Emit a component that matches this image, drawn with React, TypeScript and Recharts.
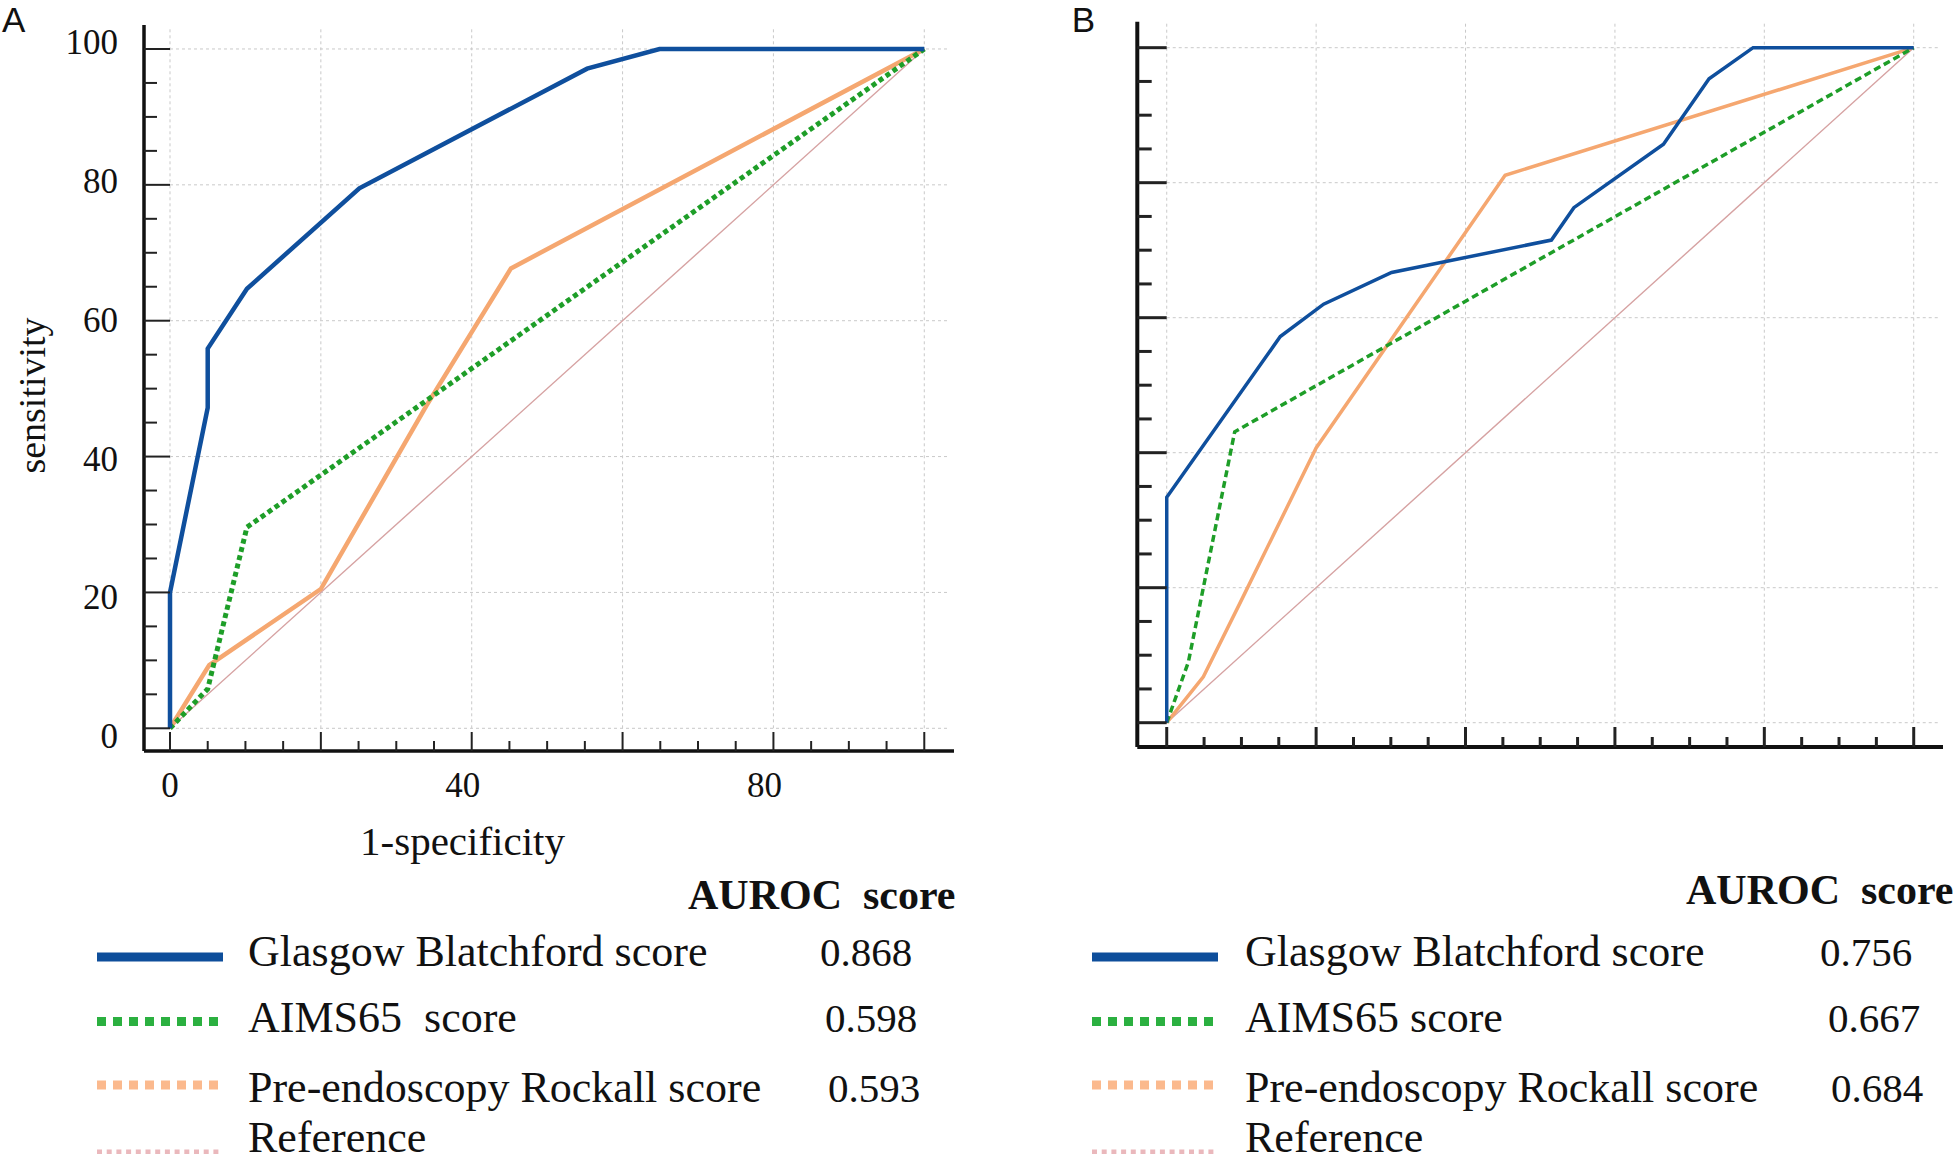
import { LineChart, Line, XAxis, YAxis, ReferenceLine } from "recharts";

const serif = "'Times New Roman', 'Liberation Serif', serif";
const sans = "Arial, 'Liberation Sans', sans-serif";

// Panel A: 1-specificity (%) vs sensitivity (%)
const gbsAx = [0, 0, 5, 5, 10.2, 25.1, 55.3, 64.9, 100];
const gbsAy = [0, 20, 47.2, 55.9, 64.7, 79.5, 97.1, 100, 100];
const aimsAx = [0, 5, 10.2, 100];
const aimsAy = [0, 5.8, 29.6, 100];
const rockAx = [0, 5.2, 20, 34, 45.2, 100];
const rockAy = [0, 9.3, 20.5, 47.5, 67.7, 100];

// Panel B
const gbsBx = [0, 0, 15.2, 21, 30.1, 51.5, 54.5, 66.5, 72.6, 78.5, 100];
const gbsBy = [0, 33.4, 57.2, 62, 66.7, 71.5, 76.3, 85.7, 95.4, 100, 100];
const aimsBx = [0, 2.9, 9.1, 100];
const aimsBy = [0, 9, 43.1, 100];
const rockBx = [0, 4.9, 10.2, 20, 45.3, 100];
const rockBy = [0, 6.8, 18.6, 40.7, 81.1, 100];

// chance diagonal, same in both panels
const refX = [0, 100];
const refY = [0, 100];

const namesA = ["Glasgow Blatchford score", "AIMS65  score", "Pre-endoscopy Rockall score", "Reference"];
const namesB = ["Glasgow Blatchford score", "AIMS65 score", "Pre-endoscopy Rockall score", "Reference"];
const aurocA = ["0.868", "0.598", "0.593"];
const aurocB = ["0.756", "0.667", "0.684"];

const axisTicks = [0, 5, 10, 15, 20, 25, 30, 35, 40, 45, 50, 55, 60, 65, 70, 75, 80, 85, 90, 95, 100];
const gridVals = [0, 20, 40, 60, 80, 100];
const xLabelsA = [0, 40, 80];
const yLabelsA = [0, 20, 40, 60, 80, 100];

const pts = (xs: number[], ys: number[]) => xs.map((x, i) => ({ x, y: ys[i] }));

const BLUE = "#0f4f9d";
const GREEN = "#1e9e28";
const ORANGE = "#f5a770";
const PINK = "#d6a2a2";

function makeXTick(major: number, minor: number, sw: number, labels: number[]) {
  return (props: any) => {
    const { x, y, payload } = props;
    const v = payload.value;
    const big = v % 20 === 0;
    return (
      <g>
        <line x1={x} x2={x} y1={y} y2={y - (big ? major : minor)} stroke="#222" strokeWidth={sw} />
        {labels.includes(v) && (
          <text x={v === 0 ? x : x - 9} y={y + 46} textAnchor="middle" fontFamily={serif} fontSize={35} fill="#111">
            {v}
          </text>
        )}
      </g>
    );
  };
}

function makeYTick(major: number, minor: number, sw: number, labels: number[]) {
  return (props: any) => {
    const { x, y, payload } = props;
    const v = payload.value;
    const big = v % 20 === 0;
    return (
      <g>
        <line x1={x} x2={x + (big ? major : minor)} y1={y} y2={y} stroke="#222" strokeWidth={sw} />
        {labels.includes(v) && (
          <text x={x - 26} y={y + 20 - 0.15 * v} textAnchor="end" fontFamily={serif} fontSize={35} fill="#111">
            {v}
          </text>
        )}
      </g>
    );
  };
}

function grid(end: number) {
  const out: any[] = [];
  gridVals.forEach((v) => {
    out.push(
      <ReferenceLine key={"v" + v} segment={[{ x: v, y: 0 }, { x: v, y: end }]} stroke="#c9c9c9" strokeDasharray="3 3" />
    );
    out.push(
      <ReferenceLine key={"h" + v} segment={[{ x: 0, y: v }, { x: end, y: v }]} stroke="#c9c9c9" strokeDasharray="3 3" />
    );
  });
  return out;
}

function PanelA() {
  return (
    <LineChart width={980} height={870} margin={{ top: 25, right: 26, bottom: 19, left: 44 }}>
      <XAxis
        type="number"
        dataKey="x"
        domain={[-3.447, 103.94]}
        allowDataOverflow
        ticks={axisTicks}
        interval={0}
        height={100}
        tickSize={0}
        tickMargin={0}
        tickLine={false}
        axisLine={{ stroke: "#111", strokeWidth: 3.5 }}
        tick={makeXTick(19, 10, 2, xLabelsA)}
      />
      <YAxis
        type="number"
        domain={[-3.342, 103.53]}
        allowDataOverflow
        ticks={axisTicks}
        interval={0}
        width={100}
        tickSize={0}
        tickMargin={0}
        tickLine={false}
        axisLine={{ stroke: "#111", strokeWidth: 3.5 }}
        tick={makeYTick(26, 13, 2, yLabelsA)}
      />
      {grid(103.1)}
      <Line data={pts(refX, refY)} dataKey="y" stroke={PINK} strokeWidth={1.4} dot={false} isAnimationActive={false} />
      <Line data={pts(rockAx, rockAy)} dataKey="y" stroke={ORANGE} strokeWidth={4.5} dot={false} isAnimationActive={false} />
      <Line data={pts(aimsAx, aimsAy)} dataKey="y" stroke={GREEN} strokeWidth={5} strokeDasharray="5 3.5" dot={false} isAnimationActive={false} />
      <Line data={pts(gbsAx, gbsAy)} dataKey="y" stroke={BLUE} strokeWidth={4.5} dot={false} isAnimationActive={false} />
      <text x={2} y={32} fontFamily={sans} fontSize={35} fill="#111">A</text>
      <text transform="translate(45, 395.5) rotate(-90)" textAnchor="middle" fontFamily={serif} fontSize={38} fill="#111">
        sensitivity
      </text>
    </LineChart>
  );
}

function PanelB() {
  return (
    <LineChart width={980} height={870} margin={{ top: 21.7, right: 17, bottom: 23, left: 57.3 }}>
      <XAxis
        type="number"
        dataKey="x"
        domain={[-3.94, 103.92]}
        allowDataOverflow
        ticks={axisTicks}
        interval={0}
        height={100}
        tickSize={0}
        tickMargin={0}
        tickLine={false}
        axisLine={{ stroke: "#111", strokeWidth: 4 }}
        tick={makeXTick(20, 10, 3, [])}
      />
      <YAxis
        type="number"
        domain={[-3.6, 103.85]}
        allowDataOverflow
        ticks={axisTicks}
        interval={0}
        width={100}
        tickSize={0}
        tickMargin={0}
        tickLine={false}
        axisLine={{ stroke: "#111", strokeWidth: 4 }}
        tick={makeYTick(29.4, 14.4, 3, [])}
      />
      {grid(103.6)}
      <Line data={pts(refX, refY)} dataKey="y" stroke={PINK} strokeWidth={1.4} dot={false} isAnimationActive={false} />
      <Line data={pts(rockBx, rockBy)} dataKey="y" stroke={ORANGE} strokeWidth={3.5} dot={false} isAnimationActive={false} />
      <Line data={pts(aimsBx, aimsBy)} dataKey="y" stroke={GREEN} strokeWidth={3.5} strokeDasharray="7 4" dot={false} isAnimationActive={false} />
      <Line data={pts(gbsBx, gbsBy)} dataKey="y" stroke={BLUE} strokeWidth={3.5} dot={false} isAnimationActive={false} />
      <text x={91.7} y={32} fontFamily={sans} fontSize={35} fill="#111">B</text>
    </LineChart>
  );
}

// legend overlay starts at page y = 800
const LEG_TOP = 800;
const symStyles = [
  { stroke: "#0e4e9b", width: 9, dash: undefined as string | undefined },
  { stroke: "#2bb040", width: 9, dash: "9 7" },
  { stroke: "#fbb98d", width: 9, dash: "9 7" },
  { stroke: "#eab8bc", width: 4.5, dash: "5 4.7" },
];
const symY = [957, 1021.5, 1085, 1151.7];
const textY = [966, 1032, 1102, 1152];

function LegendBlock(props: {
  x0: number;
  textX: number;
  headX: number;
  headY: number;
  names: string[];
  auroc: string[];
  valX: number[];
}) {
  const { x0, textX, headX, headY, names, auroc, valX } = props;
  return (
    <g fontFamily={serif} fill="#111">
      <text x={headX} y={headY - LEG_TOP} fontSize={42} fontWeight="bold" style={{ whiteSpace: "pre" }}>
        {"AUROC  score"}
      </text>
      {names.map((n, i) => (
        <g key={n}>
          <line
            x1={x0}
            x2={x0 + 126}
            y1={symY[i] - LEG_TOP}
            y2={symY[i] - LEG_TOP}
            stroke={symStyles[i].stroke}
            strokeWidth={symStyles[i].width}
            strokeDasharray={symStyles[i].dash}
          />
          <text x={textX} y={textY[i] - LEG_TOP} fontSize={44} style={{ whiteSpace: "pre" }}>
            {n}
          </text>
          {auroc[i] && (
            <text x={valX[i]} y={textY[i] - LEG_TOP} fontSize={41}>
              {auroc[i]}
            </text>
          )}
        </g>
      ))}
    </g>
  );
}

export default function App() {
  return (
    <div style={{ position: "absolute", left: 0, top: 0, width: 1960, height: 1162, background: "#fff", overflow: "hidden" }}>
      <div style={{ position: "absolute", left: 0, top: 0 }}>
        <PanelA />
      </div>
      <div style={{ position: "absolute", left: 980, top: 0 }}>
        <PanelB />
      </div>
      <svg width={1960} height={1162 - LEG_TOP} style={{ position: "absolute", left: 0, top: LEG_TOP, pointerEvents: "none" }}>
        <text x={462.5} y={855 - LEG_TOP} textAnchor="middle" fontFamily={serif} fontSize={41} fill="#111">
          1-specificity
        </text>
        <LegendBlock x0={97} textX={248} headX={688} headY={909} names={namesA} auroc={aurocA} valX={[820, 825, 828]} />
        <LegendBlock x0={1092} textX={1245} headX={1686} headY={904} names={namesB} auroc={aurocB} valX={[1820, 1828, 1831]} />
      </svg>
    </div>
  );
}
